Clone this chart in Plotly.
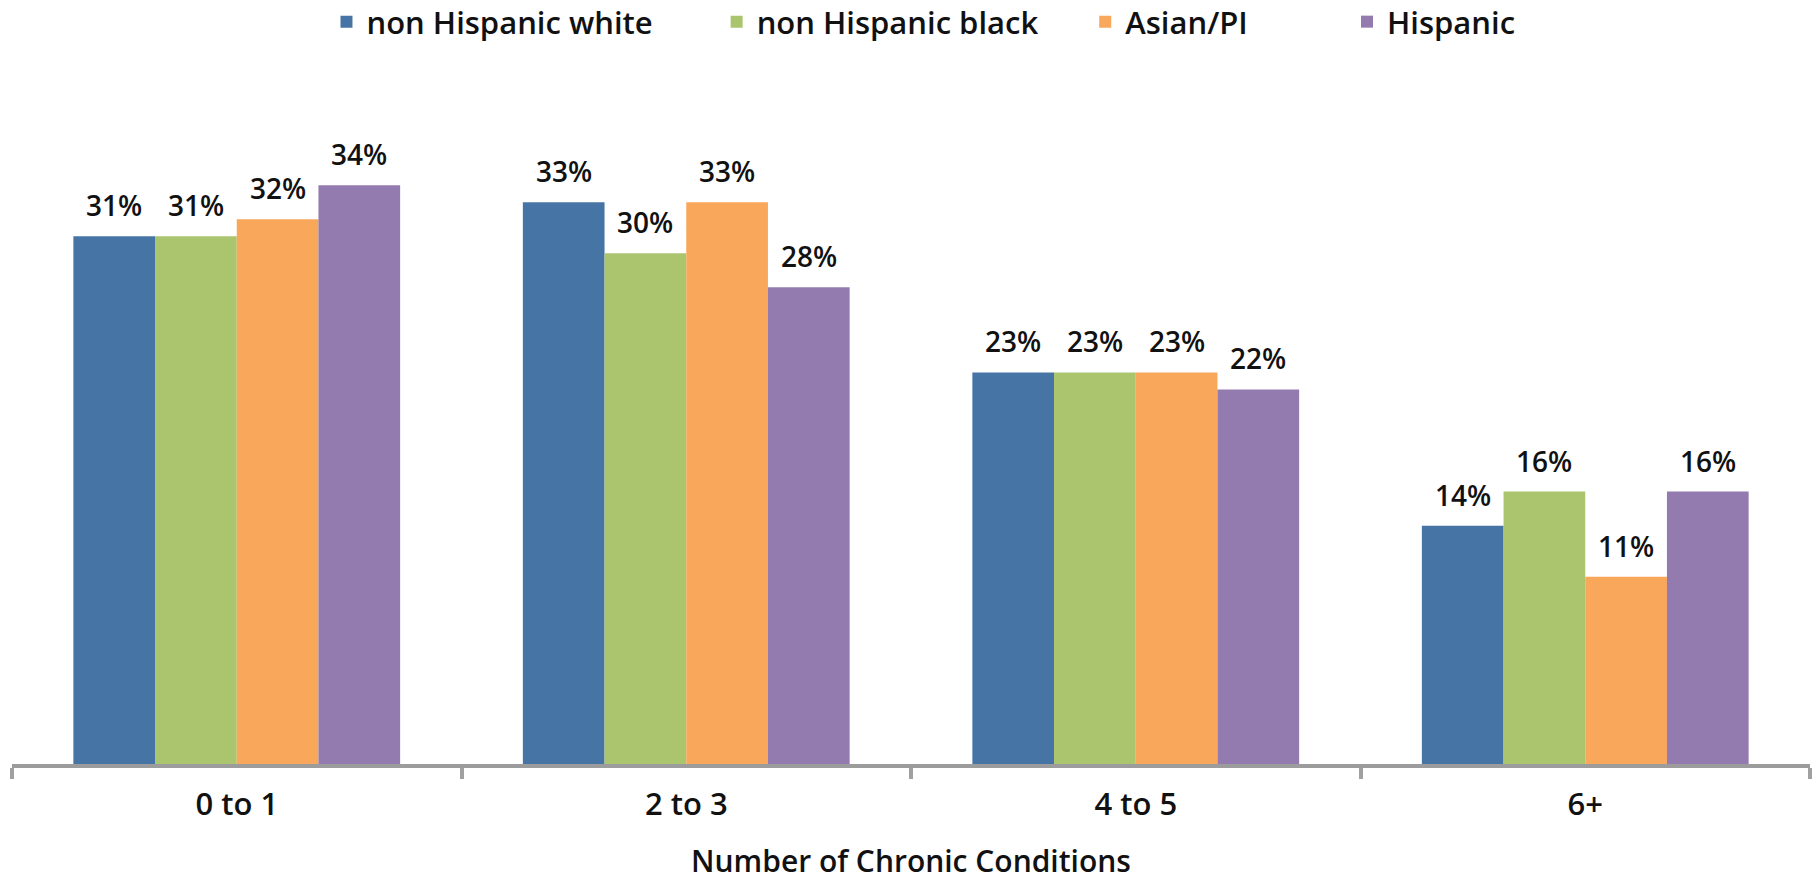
import plotly.graph_objects as go

# Share of beneficiaries by number of chronic conditions, per race/ethnicity group
categories = ["0 to 1", "2 to 3", "4 to 5", "6+"]
groups = ["non Hispanic white", "non Hispanic black", "Asian/PI", "Hispanic"]
white = [31, 33, 23, 14]
black = [31, 30, 23, 16]
asian = [32, 33, 23, 11]
hispanic = [34, 28, 22, 16]
series = [white, black, asian, hispanic]
colors = ["#4674A4", "#ABC46E", "#F9A75A", "#937BB0"]

FONT = "Open Sans"
BARGAP = 0.273
n = len(series)
bar_w = (1 - BARGAP) / n

# one single-entry legend per group, spread along the top
legend_ids = ["legend", "legend2", "legend3", "legend4"]
legend_x = [0.1749, 0.3919, 0.5969, 0.7425]

fig = go.Figure()
for name, vals, col, lg in zip(groups, series, colors, legend_ids):
    fig.add_trace(go.Bar(
        x=categories, y=vals, name=name, legend=lg,
        marker=dict(color=col, line=dict(width=0)),
    ))

# value labels above each bar
for k, vals in enumerate(series):
    for i, v in enumerate(vals):
        fig.add_annotation(
            x=i + (k - (n - 1) / 2) * bar_w, y=v, xref="x", yref="y",
            text=f"{v}%", showarrow=False, yanchor="bottom", yshift=10,
            font=dict(family=FONT, size=28, color="#111111", weight=600),
        )

legend_style = dict(
    orientation="h", xanchor="left", xref="paper",
    y=1 - 22 / 881, yanchor="middle", yref="container",
    font=dict(family=FONT, size=31, color="#111111", weight=600),
    itemclick=False, bgcolor="rgba(0,0,0,0)",
)
legends = {lg: dict(x=lx, **legend_style) for lg, lx in zip(legend_ids, legend_x)}

fig.update_layout(
    width=1812, height=881,
    margin=dict(l=12, r=2, t=83, b=117),
    paper_bgcolor="white", plot_bgcolor="white",
    barmode="group", bargap=BARGAP, bargroupgap=0,
    showlegend=True,
    **legends,
    xaxis=dict(
        showline=True, linecolor="#9C9C9C", linewidth=4,
        ticks="outside", tickson="boundaries", ticklen=11, tickwidth=4,
        tickcolor="#A0A0A0", ticklabelstandoff=10,
        tickfont=dict(family=FONT, size=31, color="#111111", weight=600),
        title=dict(text="Number of Chronic Conditions", standoff=32,
                   font=dict(family=FONT, size=30, color="#111111", weight=600)),
        showgrid=False, zeroline=False,
    ),
    yaxis=dict(range=[0, 40], visible=False, showgrid=False, zeroline=False),
)

fig.write_html("out.html")
